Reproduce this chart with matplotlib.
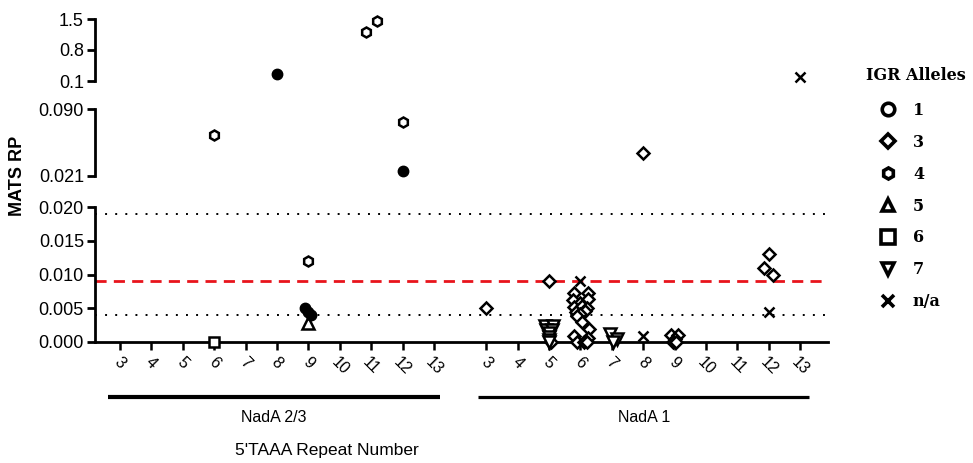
import matplotlib
matplotlib.use('Agg')
import matplotlib.pyplot as plt
import matplotlib.transforms as mtransforms
from matplotlib.lines import Line2D
from matplotlib.font_manager import FontProperties

plt.rcParams['font.family'] = ['Liberation Sans', 'DejaVu Sans']

# ---------------- data ----------------
repeat_numbers = [3, 4, 5, 6, 7, 8, 9, 10, 11, 12, 13]
group_names = ['NadA 2/3', 'NadA 1']
legend_title = 'IGR Alleles'
legend_labels = ['1', '3', '4', '5', '6', '7', 'n/a']

# IGR allele 3 (diamond)   group index: 0 = NadA 2/3, 1 = NadA 1
a3_group = [1, 1, 1,
            1, 1, 1, 1, 1, 1, 1, 1, 1, 1, 1, 1, 1, 1, 1, 1, 1, 1, 1,
            1, 1, 1, 1, 1, 1, 1, 1, 1]
a3_repeat = [3, 5, 5,
             6, 6, 6, 6, 6, 6, 6, 6, 6, 6, 6, 6, 6, 6, 6, 6, 6, 6, 6,
             8, 9, 9, 9, 9, 9, 12, 12, 12]
a3_rp = [0.005, 0.009, 0.0,
         0.0073, 0.0073, 0.0062, 0.0063, 0.0058, 0.0052, 0.0053, 0.0050, 0.0045,
         0.0046, 0.0042, 0.0038, 0.0030, 0.0019, 0.0009, 0.0006, 0.0, 0.0, 0.0,
         0.0447, 0.0011, 0.0011, 0.0004, 0.0, 0.0, 0.013, 0.011, 0.010]
a3_jitter = [0, 0, 0.05,
             -0.22, 0.25, -0.25, 0.25, 0.0, -0.2, 0.05, 0.2, -0.15,
             0.15, 0.0, -0.1, 0.05, 0.27, -0.2, 0.25, -0.1, 0.1, 0.22,
             0, -0.1, 0.12, 0.0, -0.05, 0.05, 0.0, -0.15, 0.15]

# IGR allele 4 (hexagon)
a4_group = [0, 0, 0, 0, 0]
a4_repeat = [6, 9, 11, 11, 12]
a4_rp = [0.063, 0.012, 1.21, 1.455, 0.077]
a4_jitter = [0, 0, -0.15, 0.2, 0]

# IGR allele 5 (triangle up)
a5_group = [0]
a5_repeat = [9]
a5_rp = [0.0028]
a5_jitter = [0]

# IGR allele 6 (square)
a6_group = [0]
a6_repeat = [6]
a6_rp = [0.0]
a6_jitter = [0]

# IGR allele 7 (triangle down)
a7_group = [1, 1, 1, 1, 1, 1, 1, 1, 1, 1, 1]
a7_repeat = [5, 5, 5, 5, 5, 5, 5, 5, 7, 7, 7]
a7_rp = [0.0023, 0.0023, 0.0018, 0.0018, 0.0013, 0.0008, 0.0003, 0.0,
         0.0012, 0.0005, 0.0]
a7_jitter = [-0.13, 0.13, -0.1, 0.1, 0.0, 0.0, 0.0, 0.0, -0.07, 0.15, 0.05]

# allele n/a (cross)
na_group = [1, 1, 1, 1]
na_repeat = [6, 8, 12, 13]
na_rp = [0.009, 0.0009, 0.0045, 0.19]
na_jitter = [0, 0, 0, 0]

# filled circles
fc_group = [0, 0, 0, 0, 0]
fc_repeat = [8, 9, 9, 9, 12]
fc_rp = [0.258, 0.005, 0.0045, 0.004, 0.026]
fc_jitter = [0, -0.12, 0.0, 0.08, 0]

# reference lines
dotted_levels = [0.019, 0.004]
red_level = 0.009

# ---------------- layout ----------------
W_PX, H_PX = 973, 463
fig = plt.figure(figsize=(W_PX / 100, H_PX / 100), dpi=100)
group_offset = [0.0, 11.67]
L = 95 / W_PX
R = 828 / W_PX


def rect(top_px, bot_px):
    return [L, (H_PX - bot_px) / H_PX, R - L, (bot_px - top_px) / H_PX]


ax_top = fig.add_axes(rect(19, 81))
ax_mid = fig.add_axes(rect(109, 176))
ax_bot = fig.add_axes(rect(207, 342))
axes = [ax_top, ax_mid, ax_bot]

XLIM = (-0.8, 22.56)
for ax in axes:
    ax.set_xlim(*XLIM)
    ax.patch.set_visible(False)
    for s in ['top', 'right']:
        ax.spines[s].set_visible(False)
    ax.spines['left'].set_linewidth(2)
    ax.tick_params(axis='y', length=6, width=2, labelsize=13, pad=2)
for ax in [ax_top, ax_mid]:
    ax.spines['bottom'].set_visible(False)
    ax.set_xticks([])

ax_top.set_ylim(0.1, 1.5)
ax_top.set_yticks([0.1, 0.8, 1.5])
ax_top.set_yticklabels(['0.1', '0.8', '1.5'])
ax_mid.set_ylim(0.021, 0.090)
ax_mid.set_yticks([0.021, 0.090])
ax_mid.set_yticklabels(['0.021', '0.090'])
ax_bot.set_ylim(0.0, 0.020)
bt = [0.0, 0.005, 0.010, 0.015, 0.020]
ax_bot.set_yticks(bt)
ax_bot.set_yticklabels(['%.3f' % v for v in bt])
ax_bot.spines['bottom'].set_linewidth(2)

xt, xl = [], []
for off in group_offset:
    for r in repeat_numbers:
        xt.append(r - 3 + off)
        xl.append(str(r))
ax_bot.set_xticks(xt)
ax_bot.set_xticklabels(xl, rotation=-45, ha='center', va='top', fontsize=11.5)
ax_bot.tick_params(axis='x', length=6, width=1.8, pad=3)

# reference lines
for lv in dotted_levels:
    ax_bot.axhline(lv, color='black', lw=1.4, ls=(0, (1, 4.2)), zorder=1)
ax_bot.axhline(red_level, color='#e8141c', lw=2, ls=(0, (4, 2.6)), zorder=1)


def plot_series(groups, reps, vals, jits, **style):
    xs = [r - 3 + group_offset[g] + j for g, r, j in zip(groups, reps, jits)]
    for ax, lo, hi in [(ax_bot, -1, 0.0205), (ax_mid, 0.0205, 0.095), (ax_top, 0.095, 10)]:
        px = [x for x, v in zip(xs, vals) if lo <= v < hi]
        py = [v for v in vals if lo <= v < hi]
        if px:
            ax.plot(px, py, ls='none', clip_on=False, zorder=3, **style)


open_style = dict(mfc='white', mec='black', mew=1.8)
plot_series(a3_group, a3_repeat, a3_rp, a3_jitter, marker='D', ms=6.2, **open_style)
plot_series(a4_group, a4_repeat, a4_rp, a4_jitter, marker='h', ms=7.2, **open_style)
plot_series(a5_group, a5_repeat, a5_rp, a5_jitter, marker='^', ms=8, **open_style)
plot_series(a6_group, a6_repeat, a6_rp, a6_jitter, marker='s', ms=7.5, **open_style)
plot_series(a7_group, a7_repeat, a7_rp, a7_jitter, marker='v', ms=8, **open_style)
plot_series(na_group, na_repeat, na_rp, na_jitter, marker='x', ms=7, mec='black', mew=1.8)
plot_series(fc_group, fc_repeat, fc_rp, fc_jitter, marker='o', ms=7.5, mfc='black', mec='black', mew=1)

# group bars and labels under the axis
trans = mtransforms.blended_transform_factory(ax_bot.transData, ax_bot.transAxes)
bar_ext = [(-0.38, 10.2), (-0.25, 10.28)]
bar_lw = [3.0, 2.3]
for gi, name in enumerate(group_names):
    x0 = bar_ext[gi][0] + group_offset[gi]
    x1 = bar_ext[gi][1] + group_offset[gi]
    ax_bot.plot([x0, x1], [-0.407, -0.407], color='black', lw=bar_lw[gi],
                transform=trans, clip_on=False, solid_capstyle='butt')
    ax_bot.text((x0 + x1) / 2, -0.556, name, transform=trans, ha='center',
                va='center', fontsize=11.5)

fig.text(327 / W_PX, 1 - 450 / H_PX, "5'TAAA Repeat Number", ha='center',
         va='center', fontsize=12.5)
fig.text(18 / W_PX, 1 - 176 / H_PX, 'MATS RP', rotation=90, ha='center',
         va='center', fontsize=13, fontweight='bold')

# legend
leg_markers = ['o', 'D', 'h', '^', 's', 'v', 'x']
leg_sizes = [9, 7.5, 8, 9, 9.5, 9, 8]
handles = []
for m, s in zip(leg_markers, leg_sizes):
    if m == 'x':
        handles.append(Line2D([], [], ls='none', marker=m, ms=s, mec='black', mew=2.6))
    else:
        handles.append(Line2D([], [], ls='none', marker=m, ms=s, mfc='white',
                              mec='black', mew=2.6))
lp = FontProperties(family=['DejaVu Serif'], weight='bold', size=11.5)
fig.text(866 / W_PX, 1 - 75 / H_PX, legend_title, ha='left', va='center',
         fontproperties=lp)
leg = fig.legend(handles, legend_labels, loc='upper left',
                 bbox_to_anchor=(865 / W_PX, 1 - 102 / H_PX), frameon=False,
                 prop=lp, labelspacing=0.93, handlelength=2.9, handletextpad=0.1,
                 borderpad=0, borderaxespad=0)

fig.savefig('out.png', dpi=100)
